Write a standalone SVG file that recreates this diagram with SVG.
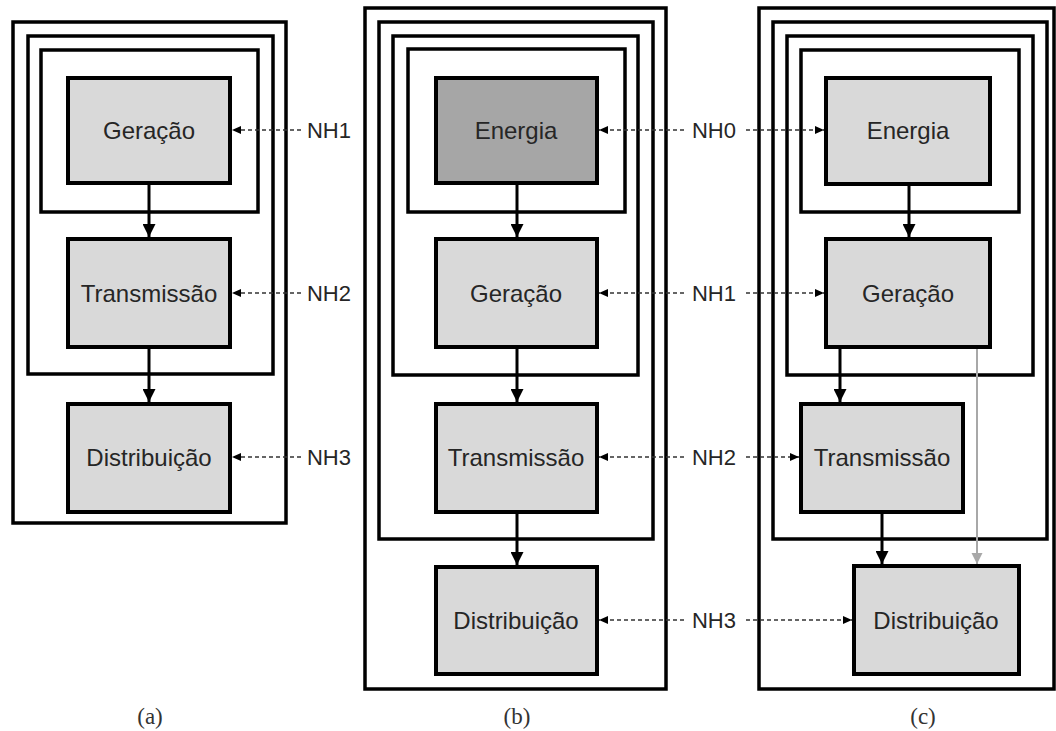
<svg xmlns="http://www.w3.org/2000/svg" width="1056" height="731" viewBox="0 0 1056 731">
<style>
.frame{fill:none;stroke:#000;stroke-width:3.5}
.box{fill:#d9d9d9;stroke:#000;stroke-width:4}
.dark{fill:#a6a6a6}
.t{font-family:"Liberation Sans",Arial,sans-serif;font-size:24px;fill:#262626;text-anchor:middle;dominant-baseline:central}
.nh{font-family:"Liberation Sans",Arial,sans-serif;font-size:22px;fill:#262626;text-anchor:middle;dominant-baseline:central}
.cap{font-family:"Liberation Serif","Times New Roman",serif;font-size:23px;fill:#333;text-anchor:middle}
.flow{stroke:#000;stroke-width:3;fill:none;marker-end:url(#ah)}
.gray{stroke:#a8a8a8;stroke-width:2;fill:none;marker-end:url(#ahg)}
.dash{stroke:#333;stroke-width:1.4;stroke-dasharray:4 3;fill:none;marker-end:url(#ahd)}
</style>
<defs>
<marker id="ah" markerUnits="userSpaceOnUse" markerWidth="14" markerHeight="13" refX="13" refY="6.5" orient="auto"><path d="M0,0 L13,6.5 L0,13 z" fill="#000"/></marker>
<marker id="ahg" markerUnits="userSpaceOnUse" markerWidth="12" markerHeight="12" refX="11" refY="5.5" orient="auto"><path d="M0,0 L11,5.5 L0,11 z" fill="#a8a8a8"/></marker>
<marker id="ahd" markerUnits="userSpaceOnUse" markerWidth="10" markerHeight="9" refX="9" refY="4" orient="auto"><path d="M0,0 L9,4 L0,8 z" fill="#000"/></marker>
</defs>
<rect width="1056" height="731" fill="#fff"/>

<g id="frames">
<rect class="frame" x="13" y="22" width="273" height="501"/>
<rect class="frame" x="28" y="36" width="245" height="338"/>
<rect class="frame" x="41" y="50" width="217" height="162"/>
<rect class="frame" x="365" y="8" width="301" height="681"/>
<rect class="frame" x="379" y="22" width="274" height="517"/>
<rect class="frame" x="393" y="36" width="245" height="339"/>
<rect class="frame" x="408" y="49" width="217" height="163"/>
<rect class="frame" x="759" y="8" width="295" height="681"/>
<rect class="frame" x="773" y="22" width="274" height="517"/>
<rect class="frame" x="787" y="36" width="246" height="339"/>
<rect class="frame" x="801" y="50" width="218" height="162"/>
</g>

<g id="a-geracao"><rect class="box" x="68" y="78" width="162" height="105"/><text class="t" x="149" y="130">Geração</text></g>
<g id="a-transmissao"><rect class="box" x="68" y="239" width="162" height="108"/><text class="t" x="149" y="293">Transmissão</text></g>
<g id="a-distribuicao"><rect class="box" x="68" y="404" width="162" height="108"/><text class="t" x="149" y="457">Distribuição</text></g>

<g id="b-energia"><rect class="box dark" x="436" y="78" width="161" height="105"/><text class="t" x="516" y="130">Energia</text></g>
<g id="b-geracao"><rect class="box" x="436" y="239" width="161" height="108"/><text class="t" x="516" y="293">Geração</text></g>
<g id="b-transmissao"><rect class="box" x="436" y="404" width="161" height="108"/><text class="t" x="516" y="457">Transmissão</text></g>
<g id="b-distribuicao"><rect class="box" x="436" y="567" width="161" height="107"/><text class="t" x="516" y="620">Distribuição</text></g>

<g id="c-energia"><rect class="box" x="826" y="78" width="164" height="106"/><text class="t" x="908" y="130">Energia</text></g>
<g id="c-geracao"><rect class="box" x="826" y="239" width="164" height="108"/><text class="t" x="908" y="293">Geração</text></g>
<g id="c-transmissao"><rect class="box" x="801" y="404" width="162" height="108"/><text class="t" x="882" y="457">Transmissão</text></g>
<g id="c-distribuicao"><rect class="box" x="854" y="566" width="165" height="108"/><text class="t" x="936" y="620">Distribuição</text></g>

<g id="labels">
<text class="nh" x="329" y="130">NH1</text>
<text class="nh" x="329" y="293">NH2</text>
<text class="nh" x="329" y="457">NH3</text>
<text class="nh" x="714" y="130">NH0</text>
<text class="nh" x="714" y="293">NH1</text>
<text class="nh" x="714" y="457">NH2</text>
<text class="nh" x="714" y="620">NH3</text>
<text class="cap" x="150" y="724">(a)</text>
<text class="cap" x="517" y="724">(b)</text>
<text class="cap" x="923" y="724">(c)</text>
</g>

<g id="connectors">
<line class="flow" x1="149" y1="183" x2="149" y2="237"/>
<line class="flow" x1="149" y1="347" x2="149" y2="402"/>
<line class="flow" x1="517" y1="183" x2="517" y2="237"/>
<line class="flow" x1="517" y1="347" x2="517" y2="402"/>
<line class="flow" x1="517" y1="512" x2="517" y2="565"/>
<line class="flow" x1="909" y1="184" x2="909" y2="237"/>
<line class="flow" x1="840" y1="347" x2="840" y2="402"/>
<line class="flow" x1="882" y1="512" x2="882" y2="564"/>
<line class="gray" x1="977" y1="349" x2="977" y2="564"/>

<line class="dash" x1="301" y1="130" x2="232" y2="130"/>
<line class="dash" x1="301" y1="293" x2="232" y2="293"/>
<line class="dash" x1="301" y1="457" x2="232" y2="457"/>

<line class="dash" x1="684" y1="130" x2="599" y2="130"/>
<line class="dash" x1="684" y1="293" x2="599" y2="293"/>
<line class="dash" x1="684" y1="457" x2="599" y2="457"/>
<line class="dash" x1="684" y1="620" x2="599" y2="620"/>

<line class="dash" x1="746" y1="130" x2="824" y2="130"/>
<line class="dash" x1="746" y1="293" x2="824" y2="293"/>
<line class="dash" x1="746" y1="457" x2="799" y2="457"/>
<line class="dash" x1="746" y1="620" x2="852" y2="620"/>
</g>
</svg>
